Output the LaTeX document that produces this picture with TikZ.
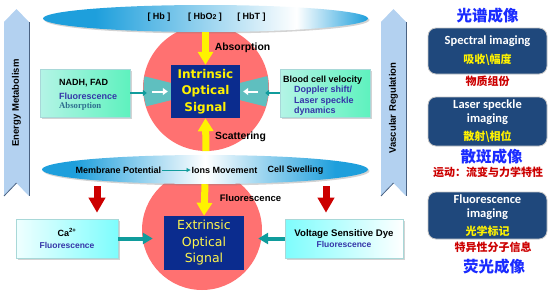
\documentclass[tikz,border=0pt]{standalone}
\usepackage{fontspec}
\setmainfont{Liberation Sans}
\newfontfamily\comicfont{DejaVu Sans}
\newfontfamily\calfont{Carlito}
\newfontfamily\serfont{Liberation Serif}
\newfontfamily\cjk{Noto Sans CJK SC}
\usetikzlibrary{arrows.meta,positioning,calc,shapes.geometric,shadows}

\definecolor{salmon}{HTML}{FF7171}
\definecolor{wedgec}{HTML}{5FBFBF}
\definecolor{navy}{HTML}{0B2C8E}
\definecolor{tealc}{HTML}{109C9C}
\definecolor{skyb}{HTML}{1E9FDC}
\definecolor{pale}{HTML}{B3D1F0}
\definecolor{edgec}{HTML}{4A6282}
\definecolor{boxblue}{HTML}{1F487C}
\definecolor{cjkblue}{HTML}{1A2BFF}
\definecolor{cjkred}{HTML}{CC0000}
\definecolor{dred}{HTML}{CC0000}
\definecolor{flblue}{HTML}{3535A8}
\definecolor{absblue}{HTML}{2E6E8E}
\definecolor{mintL}{HTML}{B4F4E6}
\definecolor{mintR}{HTML}{5EF2BE}
\definecolor{cyanb}{HTML}{7DFDFD}
\definecolor{bord}{HTML}{A8D8D8}

\pgfdeclarehorizontalshading{topshade}{100bp}{color(0bp)=(skyb); color(33bp)=(skyb); color(64bp)=(white); color(75bp)=(skyb); color(100bp)=(skyb)}
\pgfdeclarehorizontalshading{midshade}{100bp}{color(0bp)=(skyb); color(30bp)=(skyb); color(50bp)=(white); color(70bp)=(skyb); color(100bp)=(skyb)}

\tikzset{
  shad/.style={drop shadow={shadow xshift=1.5pt, shadow yshift=-1.5pt, opacity=0.35}},
  sigbox/.style={fill=navy, text=yellow, minimum width=69pt, minimum height=53pt, inner sep=0pt, align=center},
  sidebox/.style={draw=bord, line width=0.6pt, inner sep=0pt, align=center, shad},
  yarr/.style={draw=yellow, line width=7pt, -{Triangle[length=13pt, width=15pt]}},
  darr/.style={draw=dred, line width=7pt, -{Triangle[length=15pt, width=16pt]}},
  tarr/.style={draw=tealc, line width=4pt, -{Triangle[length=10pt, width=11pt]}},
  sarr/.style={draw=tealc, line width=1.6pt, -{Triangle[length=4pt, width=6pt]}},
  warr/.style={draw=white, line width=2pt, -{Triangle[length=5pt, width=7pt]}},
  imgbox/.style={rounded corners=8pt, fill=boxblue, draw=gray!45, line width=0.8pt, minimum width=119pt,
    text=white, align=center, inner sep=0pt, font=\calfont\bfseries\fontsize{12.5}{14}\selectfont},
  cjkttl/.style={text=cjkblue, inner sep=0pt, font=\cjk\bfseries\fontsize{15.5}{16}\selectfont},
  cjknote/.style={text=cjkred, inner sep=0pt, font=\cjk\bfseries\fontsize{11}{12}\selectfont}
}
\newcommand{\yel}[1]{{\cjk\fontsize{11}{12}\selectfont\color{yellow}#1}}

\begin{document}
\begin{tikzpicture}[x=1pt, y=-1pt, font=\fontsize{9}{10.5}\selectfont\bfseries]
  \useasboundingbox (0,0) rectangle (554,292);

  % side arrows
  \foreach \x/\ym/\lab [count=\i] in {16.5/103/Energy Metabolism, 393.5/108/Vascular Regulation} {
    \fill[pale] (\x-12.5,22) -- (\x,9) -- (\x+12.5,22) -- (\x+12.5,196) -- (\x,183) -- (\x-12.5,196) -- cycle;
    \draw[edgec, line width=1pt] (\x+12.5,22) -- (\x+12.5,196);
    \draw[edgec, line width=0.8pt] (\x-12.5,196) -- (\x,183);
    \node[rotate=90, font=\fontsize{9.5}{10}\selectfont\bfseries] (side\i) at (\x,\ym) {\lab};
  }

  % circles and wedges
  \node[circle, fill=salmon, minimum size=126pt, inner sep=0pt] (icirc) at (206,88) {};
  \node[circle, fill=salmon, minimum size=120pt, inner sep=0pt] (ecirc) at (202,230) {};
  \coordinate (ic) at (205.5,91.5);
  \begin{scope}
    \clip (icirc.center) circle[radius=62.5pt];
    \fill[wedgec] (ic) -- ++(-80,-20) -- ++(0,40) -- cycle;
    \fill[wedgec] (ic) -- ++(80,-20) -- ++(0,40) -- cycle;
  \end{scope}

  % ellipses
  \node[ellipse, shade, shading=topshade, minimum width=325pt, minimum height=27pt, inner sep=0pt, shad] (topell) at (205.5,18.5) {};
  \node (hb) at (159,17) {[ Hb ]};
  \node (hbo) at (205,17) {[ HbO{\fontsize{7}{7}\selectfont 2} ]};
  \node (hbt) at (251.5,17) {[ HbT ]};

  \node[ellipse, shade, shading=midshade, minimum width=326pt, minimum height=29pt, inner sep=0pt, shad] (midell) at (205,169.5) {};
  \node[inner sep=1pt] (mp) at (118.5,170) {Membrane Potential};
  \node[inner sep=1pt] (im) at (224.5,170) {Ions Movement};
  \node[inner sep=1pt] (cs) at (295.5,170) {Cell Swelling};
  \draw[tealc, line width=0.8pt, -{Triangle[length=4pt, width=4pt]}] (mp.east) -- (im.west);

  % signal boxes
  \node[sigbox, font=\comicfont\bfseries\fontsize{12}{16.5}\selectfont] (ios) at (ic) {Intrinsic\\Optical\\Signal};
  \node[sigbox, minimum width=80pt, minimum height=54pt, text=yellow!70!white,
        font=\comicfont\fontsize{12.5}{16.5}\selectfont] (eos) at (204,243) {Extrinsic\\Optical\\Signal};

  \draw[yarr] (topell.south) -- (ios.north);
  \draw[yarr] (icirc.south) -- (ios.south);
  \draw[yarr] (midell.south) -- (eos.north);
  \node[font=\fontsize{10.4}{12}\selectfont\bfseries] (absl) at (242.5,48) {Absorption};
  \node[font=\fontsize{10.4}{12}\selectfont\bfseries] (scl) at (240.5,137) {Scattering};
  \node[font=\fontsize{9.5}{12}\selectfont\bfseries] (fll) at (250.5,198) {Fluorescence};

  % upper side boxes
  \node[sidebox, left color=mintL, right color=mintR, minimum width=90pt, minimum height=48pt] (nadh) at (85,93) {};
  \node[anchor=west, align=left, inner sep=0pt] (nadht) at (59,95) {NADH, FAD\\[3pt]
    \textcolor{flblue}{Fluorescence}\\[-1pt]
    {\serfont\bfseries\fontsize{8.7}{10}\selectfont\textcolor{absblue}{Absorption}}};
  \node[sidebox, left color=mintL, right color=mintR, minimum width=90pt, minimum height=48pt] (blood) at (325,93) {};
  \node[anchor=west, align=left, inner sep=0pt] (bloodt) at (283,95.5) {Blood cell velocity\\
    \hspace*{11pt}\textcolor{flblue}{Doppler shift/}\\
    \hspace*{11pt}\textcolor{flblue}{Laser speckle}\\
    \hspace*{11pt}\textcolor{flblue}{dynamics}};
  \draw[sarr, shorten >=-4pt] (nadh.east) -- (nadh.east -| icirc.west);
  \draw[sarr, shorten >=-4pt] (blood.west) -- (blood.west -| icirc.east);
  \draw[warr] ([xshift=-19pt]ios.west) -- ([xshift=-3pt]ios.west);
  \draw[warr] ([xshift=18pt]ios.east) -- ([xshift=3pt]ios.east);

  % lower side boxes
  \node[sidebox, left color=cyanb!12, right color=cyanb, minimum width=102pt, minimum height=39pt] (ca) at (67,238.5)
    {Ca\textsuperscript{2+}\\[1pt]\textcolor{flblue}{\fontsize{8.5}{10}\selectfont Fluorescence}};
  \node[sidebox, left color=cyanb, right color=white, minimum width=118pt, minimum height=39pt] (vsd) at (344,238.5)
    {\fontsize{9.6}{11}\selectfont Voltage Sensitive Dye\\[1pt]\textcolor{flblue}{\fontsize{8.5}{10}\selectfont Fluorescence}};
  \coordinate (r1) at (97,186);
  \coordinate (r2) at (326,186);
  \draw[darr, shorten >=6pt] (r1) -- (r1 |- ca.north);
  \draw[darr, shorten >=6pt] (r2) -- (r2 |- vsd.north);
  \draw[tarr, shorten >=11pt] (ca.east) -- (ca.east -| eos.west);
  \draw[tarr, shorten >=14pt] (vsd.west) -- (vsd.west -| eos.east);

  % imaging column
  \node[cjkttl] (t1) at (487.5,16) {光谱成像};
  \node[imgbox, minimum height=46pt] (spec) at (487.5,51) {Spectral imaging\\[5pt]\yel{吸收\textbackslash 幅度}};
  \node[cjknote] (n1) at (487.5,81) {物质组份};
  \node[imgbox, minimum height=49pt] (lsi) at (487.5,121.5) {Laser speckle\\imaging\\[4pt]\yel{散射\textbackslash 相位}};
  \node[cjkttl] (t2) at (491.5,157) {散斑成像};
  \node[cjknote] (n2) at (488,172) {运动：流变与力学特性};
  \node[imgbox, minimum height=47pt] (fli) at (487.5,215.5) {Fluorescence\\imaging\\[4pt]\yel{光学标记}};
  \node[cjknote] (n3) at (493,247) {特异性分子信息};
  \node[cjkttl] (t3) at (494,267) {荧光成像};
\end{tikzpicture}
\end{document}
